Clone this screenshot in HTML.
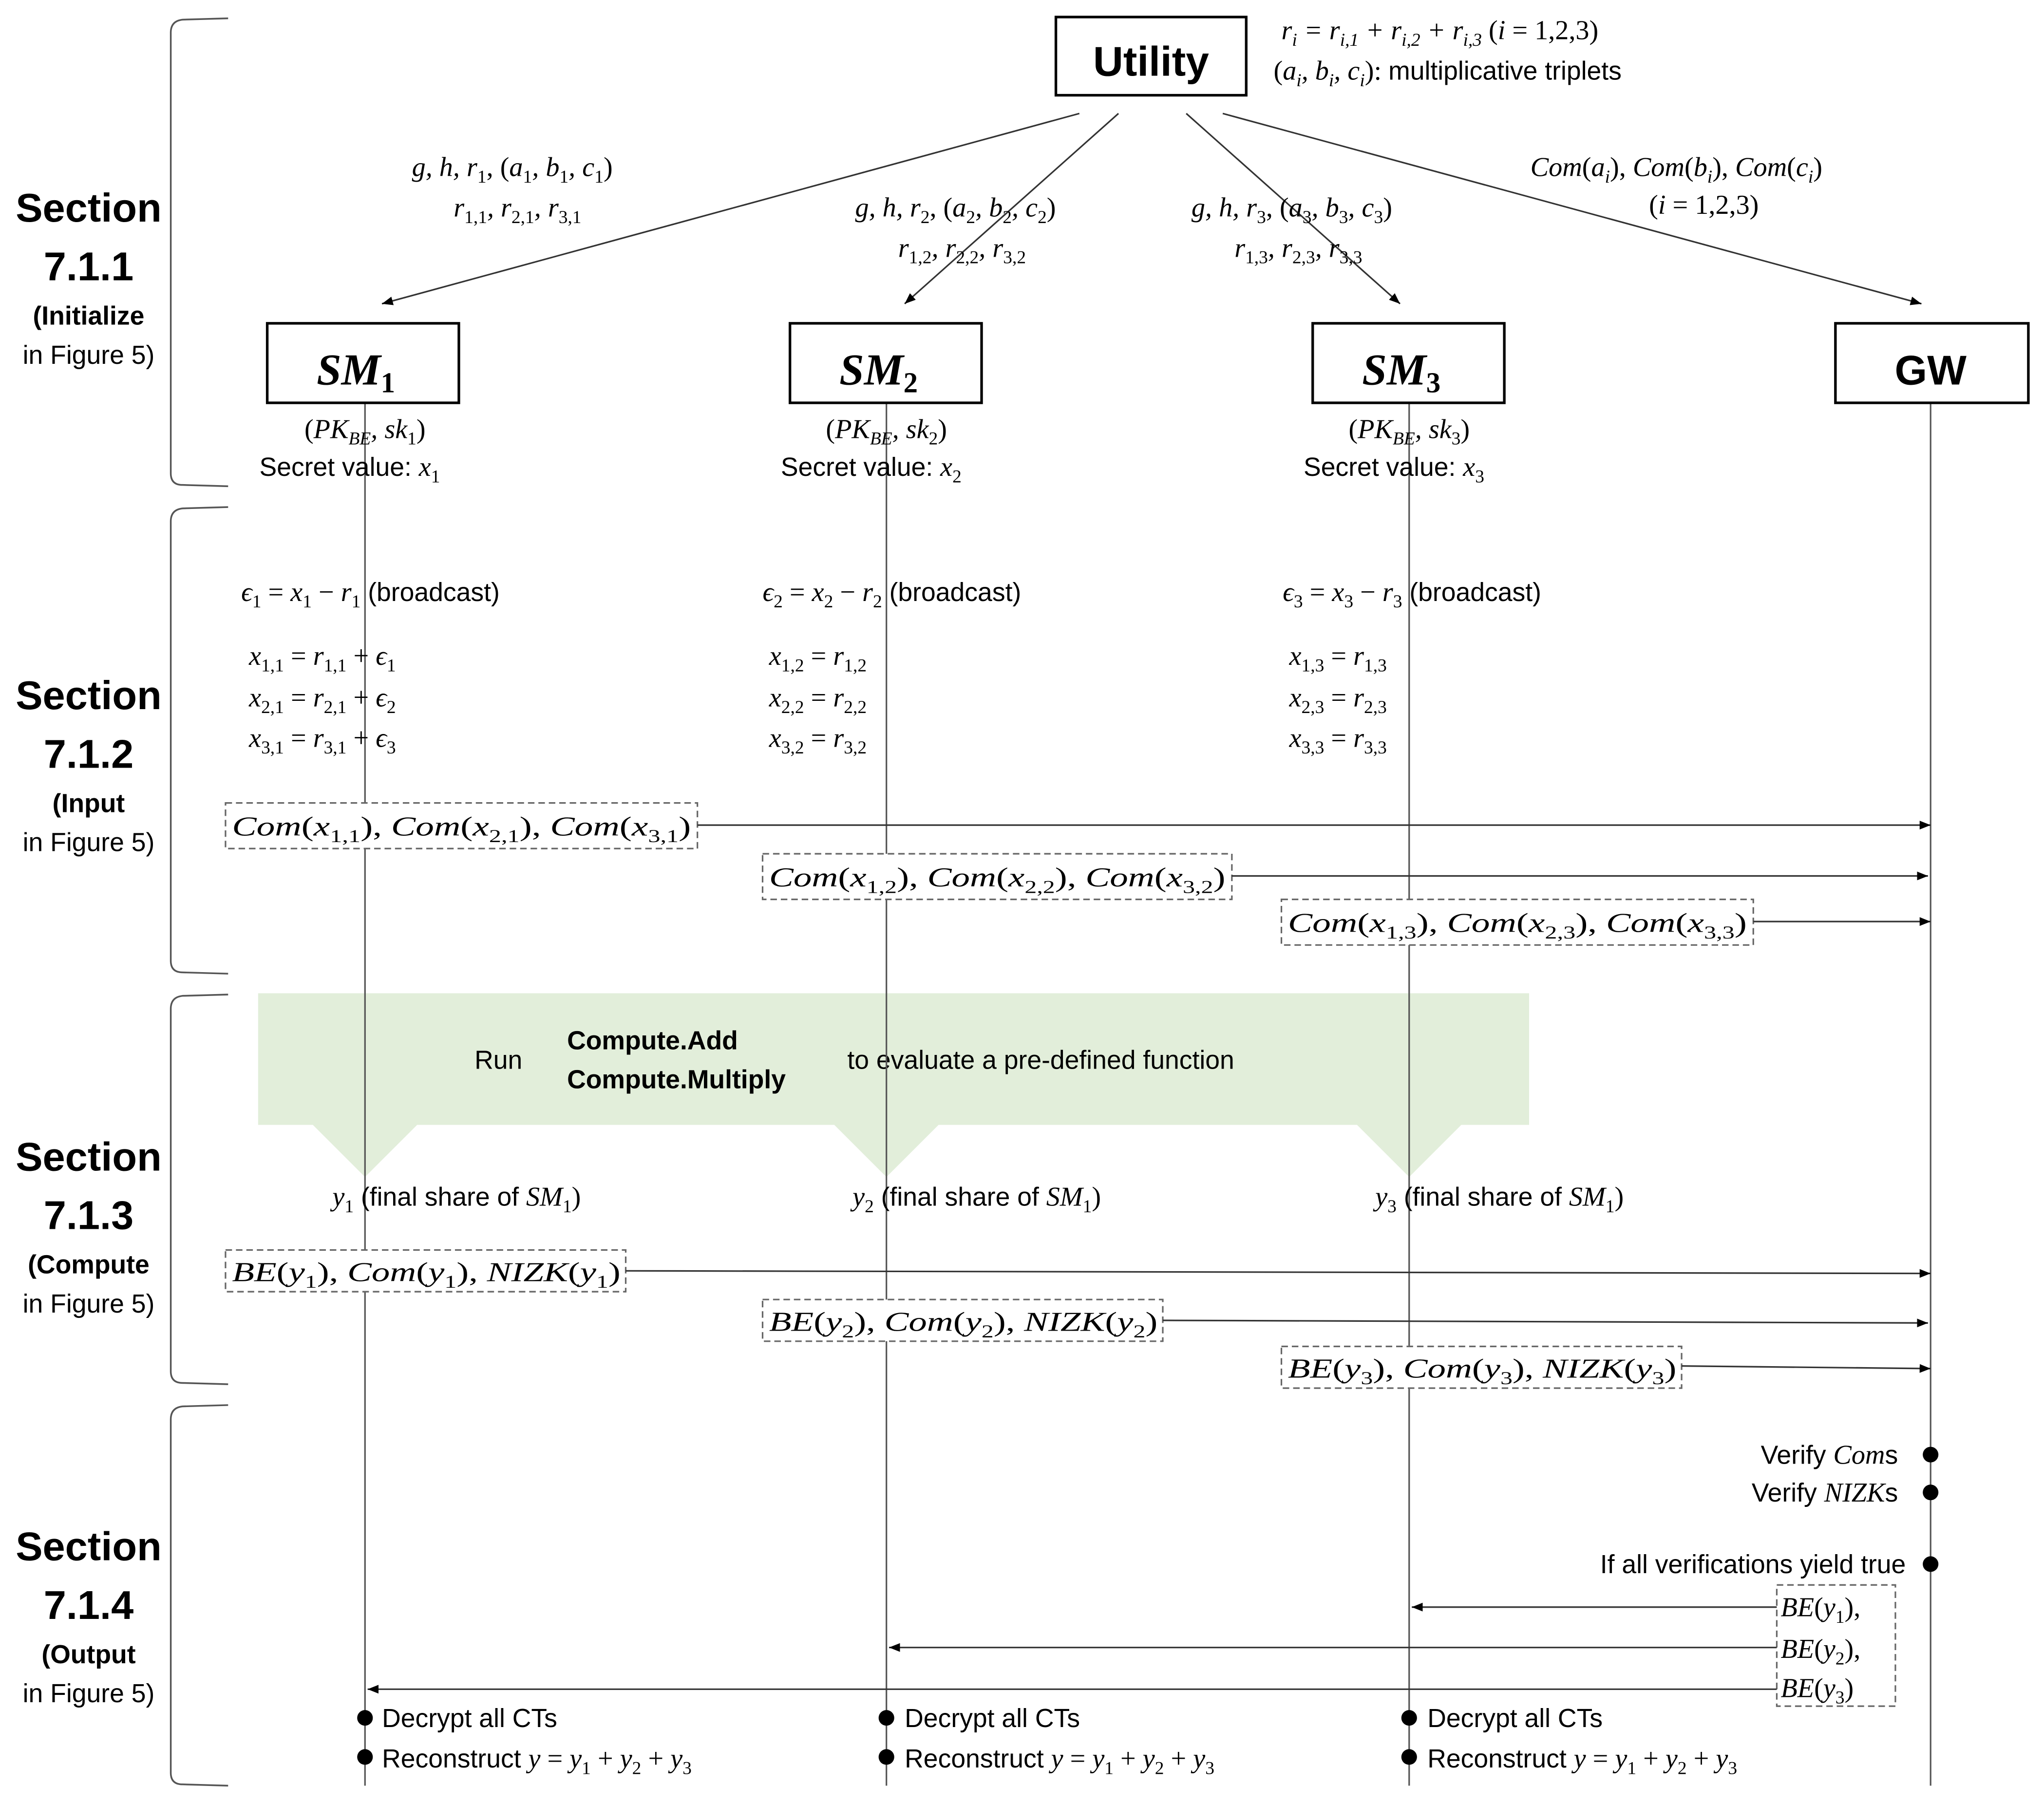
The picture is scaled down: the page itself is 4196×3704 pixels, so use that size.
<!DOCTYPE html>
<html><head><meta charset="utf-8"><style>
html,body{margin:0;padding:0;background:#fff;}
svg{display:block;}
.s{font-family:"Liberation Sans",sans-serif;}
.m{font-family:"Liberation Serif",serif;font-style:italic;}
.n{font-style:normal;}
</style></head><body>
<svg width="4196" height="3704" viewBox="0 0 1568 1384" xmlns="http://www.w3.org/2000/svg">
<defs>
<marker id="a" viewBox="0 0 10 10" refX="10" refY="5" markerWidth="7" markerHeight="7" orient="auto-start-reverse"><path d="M0,1 L10,5 L0,9 z" fill="#000"/></marker>
</defs>
<rect width="1568" height="1384" fill="#fff"/>
<!-- braces -->
<g fill="none" stroke="#555" stroke-width="1.3">
<path d="M175,14 L140,15 Q131,16 131,25 L131,363 Q131,372 140,372 L175,373"/>
<path d="M175,389 L140,390 Q131,391 131,400 L131,737 Q131,746 140,746 L175,747"/>
<path d="M175,763 L140,764 Q131,765 131,774 L131,1052 Q131,1061 140,1061 L175,1062"/>
<path d="M175,1078 L140,1079 Q131,1080 131,1089 L131,1360 Q131,1369 140,1369 L175,1370"/>
</g>
<!-- section labels -->
<g class="s" text-anchor="middle" fill="#000">
<text x="68" y="170" font-size="31" font-weight="bold">Section</text>
<text x="68" y="215" font-size="31" font-weight="bold">7.1.1</text>
<text x="68" y="249" font-size="20"><tspan font-weight="bold">(Initialize</tspan></text>
<text x="68" y="279" font-size="20">in Figure 5)</text>
<text x="68" y="544" font-size="31" font-weight="bold">Section</text>
<text x="68" y="589" font-size="31" font-weight="bold">7.1.2</text>
<text x="68" y="623" font-size="20" font-weight="bold">(Input</text>
<text x="68" y="653" font-size="20">in Figure 5)</text>
<text x="68" y="898" font-size="31" font-weight="bold">Section</text>
<text x="68" y="943" font-size="31" font-weight="bold">7.1.3</text>
<text x="68" y="977" font-size="20" font-weight="bold">(Compute</text>
<text x="68" y="1007" font-size="20">in Figure 5)</text>
<text x="68" y="1197" font-size="31" font-weight="bold">Section</text>
<text x="68" y="1242" font-size="31" font-weight="bold">7.1.4</text>
<text x="68" y="1276" font-size="20" font-weight="bold">(Output</text>
<text x="68" y="1306" font-size="20">in Figure 5)</text>
</g>
<!-- green compute band -->
<path d="M198,762 L1173,762 L1173,863 L1121,863 L1081,903 L1041,863 L720,863 L680,903 L640,863 L320,863 L280,903 L240,863 L198,863 Z" fill="#e2eeda"/>
<g class="s" font-size="20" fill="#000">
<text x="364" y="820">Run</text>
<text x="435" y="805" font-weight="bold">Compute.Add</text>
<text x="435" y="835" font-weight="bold">Compute.Multiply</text>
<text x="650" y="820">to evaluate a pre-defined function</text>
</g>
<!-- lifelines -->
<g stroke="#555" stroke-width="1.2">
<line x1="280" y1="309" x2="280" y2="1370"/>
<line x1="680" y1="309" x2="680" y2="1370"/>
<line x1="1081" y1="309" x2="1081" y2="1370"/>
<line x1="1481" y1="309" x2="1481" y2="1370"/>
</g>
<!-- boxes -->
<g fill="#fff" stroke="#000" stroke-width="2">
<rect x="810" y="13" width="146" height="60"/>
<rect x="205" y="248" width="147" height="61"/>
<rect x="606" y="248" width="147" height="61"/>
<rect x="1007" y="248" width="147" height="61"/>
<rect x="1408" y="248" width="148" height="61"/>
</g>
<text x="883" y="58" class="s" font-size="32" font-weight="bold" text-anchor="middle">Utility</text>
<g class="m" font-size="34" font-weight="bold" text-anchor="middle">
<text x="273" y="295">SM<tspan font-size="22" dy="6" class="n">1</tspan></text>
<text x="674" y="295">SM<tspan font-size="22" dy="6" class="n">2</tspan></text>
<text x="1075" y="295">SM<tspan font-size="22" dy="6" class="n">3</tspan></text>
</g>
<text x="1481" y="295" class="s" font-size="32" font-weight="bold" text-anchor="middle">GW</text>
<!-- utility arrows -->
<g stroke="#333" stroke-width="1.2" marker-end="url(#a)">
<line x1="828" y1="87" x2="293" y2="233"/>
<line x1="858" y1="87" x2="694" y2="233"/>
<line x1="910" y1="87" x2="1074" y2="233"/>
<line x1="938" y1="87" x2="1474" y2="233"/>
</g>
<!-- top math -->
<g class="m" font-size="21" fill="#000">
<text x="983" y="30">r<tspan font-size="14" dy="5">i</tspan><tspan dy="-5"> = r</tspan><tspan font-size="14" dy="5">i,1</tspan><tspan dy="-5"> + r</tspan><tspan font-size="14" dy="5">i,2</tspan><tspan dy="-5"> + r</tspan><tspan font-size="14" dy="5">i,3</tspan><tspan dy="-5" class="n"> (</tspan>i<tspan class="n"> = 1,2,3)</tspan></text>
<text x="977" y="61"><tspan class="n">(</tspan>a<tspan font-size="14" dy="5">i</tspan><tspan dy="-5">, b</tspan><tspan font-size="14" dy="5">i</tspan><tspan dy="-5">, c</tspan><tspan font-size="14" dy="5">i</tspan><tspan dy="-5" class="n">): </tspan><tspan class="s n" font-size="20">multiplicative triplets</tspan></text>
<text x="316" y="135">g, h, r<tspan font-size="14" dy="5" class="n">1</tspan><tspan dy="-5" class="n">, (</tspan>a<tspan font-size="14" dy="5" class="n">1</tspan><tspan dy="-5">, b</tspan><tspan font-size="14" dy="5" class="n">1</tspan><tspan dy="-5">, c</tspan><tspan font-size="14" dy="5" class="n">1</tspan><tspan dy="-5" class="n">)</tspan></text>
<text x="348" y="166">r<tspan font-size="14" dy="5" class="n">1,1</tspan><tspan dy="-5">, r</tspan><tspan font-size="14" dy="5" class="n">2,1</tspan><tspan dy="-5">, r</tspan><tspan font-size="14" dy="5" class="n">3,1</tspan></text>
<text x="656" y="166">g, h, r<tspan font-size="14" dy="5" class="n">2</tspan><tspan dy="-5" class="n">, (</tspan>a<tspan font-size="14" dy="5" class="n">2</tspan><tspan dy="-5">, b</tspan><tspan font-size="14" dy="5" class="n">2</tspan><tspan dy="-5">, c</tspan><tspan font-size="14" dy="5" class="n">2</tspan><tspan dy="-5" class="n">)</tspan></text>
<text x="689" y="197">r<tspan font-size="14" dy="5" class="n">1,2</tspan><tspan dy="-5">, r</tspan><tspan font-size="14" dy="5" class="n">2,2</tspan><tspan dy="-5">, r</tspan><tspan font-size="14" dy="5" class="n">3,2</tspan></text>
<text x="914" y="166">g, h, r<tspan font-size="14" dy="5" class="n">3</tspan><tspan dy="-5" class="n">, (</tspan>a<tspan font-size="14" dy="5" class="n">3</tspan><tspan dy="-5">, b</tspan><tspan font-size="14" dy="5" class="n">3</tspan><tspan dy="-5">, c</tspan><tspan font-size="14" dy="5" class="n">3</tspan><tspan dy="-5" class="n">)</tspan></text>
<text x="947" y="197">r<tspan font-size="14" dy="5" class="n">1,3</tspan><tspan dy="-5">, r</tspan><tspan font-size="14" dy="5" class="n">2,3</tspan><tspan dy="-5">, r</tspan><tspan font-size="14" dy="5" class="n">3,3</tspan></text>
<text x="1174" y="135">Com<tspan class="n">(</tspan>a<tspan font-size="14" dy="5">i</tspan><tspan dy="-5" class="n">), </tspan>Com<tspan class="n">(</tspan>b<tspan font-size="14" dy="5">i</tspan><tspan dy="-5" class="n">), </tspan>Com<tspan class="n">(</tspan>c<tspan font-size="14" dy="5">i</tspan><tspan dy="-5" class="n">)</tspan></text>
<text x="1265" y="164"><tspan class="n">(</tspan>i<tspan class="n"> = 1,2,3)</tspan></text>
<!-- keys -->
<text x="280" y="336" text-anchor="middle"><tspan class="n">(</tspan>PK<tspan font-size="14" dy="5">BE</tspan><tspan dy="-5">, sk</tspan><tspan font-size="14" dy="5" class="n">1</tspan><tspan dy="-5" class="n">)</tspan></text>
<text x="680" y="336" text-anchor="middle"><tspan class="n">(</tspan>PK<tspan font-size="14" dy="5">BE</tspan><tspan dy="-5">, sk</tspan><tspan font-size="14" dy="5" class="n">2</tspan><tspan dy="-5" class="n">)</tspan></text>
<text x="1081" y="336" text-anchor="middle"><tspan class="n">(</tspan>PK<tspan font-size="14" dy="5">BE</tspan><tspan dy="-5">, sk</tspan><tspan font-size="14" dy="5" class="n">3</tspan><tspan dy="-5" class="n">)</tspan></text>
<text x="199" y="365"><tspan class="s n" font-size="20">Secret value: </tspan>x<tspan font-size="14" dy="5" class="n">1</tspan></text>
<text x="599" y="365"><tspan class="s n" font-size="20">Secret value: </tspan>x<tspan font-size="14" dy="5" class="n">2</tspan></text>
<text x="1000" y="365"><tspan class="s n" font-size="20">Secret value: </tspan>x<tspan font-size="14" dy="5" class="n">3</tspan></text>
<!-- input section -->
<text x="185" y="461">ϵ<tspan font-size="14" dy="5" class="n">1</tspan><tspan dy="-5" class="n"> = </tspan>x<tspan font-size="14" dy="5" class="n">1</tspan><tspan dy="-5" class="n"> − </tspan>r<tspan font-size="14" dy="5" class="n">1</tspan><tspan dy="-5" class="s n" font-size="20"> (broadcast)</tspan></text>
<text x="585" y="461">ϵ<tspan font-size="14" dy="5" class="n">2</tspan><tspan dy="-5" class="n"> = </tspan>x<tspan font-size="14" dy="5" class="n">2</tspan><tspan dy="-5" class="n"> − </tspan>r<tspan font-size="14" dy="5" class="n">2</tspan><tspan dy="-5" class="s n" font-size="20"> (broadcast)</tspan></text>
<text x="984" y="461">ϵ<tspan font-size="14" dy="5" class="n">3</tspan><tspan dy="-5" class="n"> = </tspan>x<tspan font-size="14" dy="5" class="n">3</tspan><tspan dy="-5" class="n"> − </tspan>r<tspan font-size="14" dy="5" class="n">3</tspan><tspan dy="-5" class="s n" font-size="20"> (broadcast)</tspan></text>
<text x="191" y="510">x<tspan font-size="14" dy="5" class="n">1,1</tspan><tspan dy="-5" class="n"> = </tspan>r<tspan font-size="14" dy="5" class="n">1,1</tspan><tspan dy="-5" class="n"> + </tspan>ϵ<tspan font-size="14" dy="5" class="n">1</tspan></text>
<text x="191" y="542">x<tspan font-size="14" dy="5" class="n">2,1</tspan><tspan dy="-5" class="n"> = </tspan>r<tspan font-size="14" dy="5" class="n">2,1</tspan><tspan dy="-5" class="n"> + </tspan>ϵ<tspan font-size="14" dy="5" class="n">2</tspan></text>
<text x="191" y="573">x<tspan font-size="14" dy="5" class="n">3,1</tspan><tspan dy="-5" class="n"> = </tspan>r<tspan font-size="14" dy="5" class="n">3,1</tspan><tspan dy="-5" class="n"> + </tspan>ϵ<tspan font-size="14" dy="5" class="n">3</tspan></text>
<text x="590" y="510">x<tspan font-size="14" dy="5" class="n">1,2</tspan><tspan dy="-5" class="n"> = </tspan>r<tspan font-size="14" dy="5" class="n">1,2</tspan></text>
<text x="590" y="542">x<tspan font-size="14" dy="5" class="n">2,2</tspan><tspan dy="-5" class="n"> = </tspan>r<tspan font-size="14" dy="5" class="n">2,2</tspan></text>
<text x="590" y="573">x<tspan font-size="14" dy="5" class="n">3,2</tspan><tspan dy="-5" class="n"> = </tspan>r<tspan font-size="14" dy="5" class="n">3,2</tspan></text>
<text x="989" y="510">x<tspan font-size="14" dy="5" class="n">1,3</tspan><tspan dy="-5" class="n"> = </tspan>r<tspan font-size="14" dy="5" class="n">1,3</tspan></text>
<text x="989" y="542">x<tspan font-size="14" dy="5" class="n">2,3</tspan><tspan dy="-5" class="n"> = </tspan>r<tspan font-size="14" dy="5" class="n">2,3</tspan></text>
<text x="989" y="573">x<tspan font-size="14" dy="5" class="n">3,3</tspan><tspan dy="-5" class="n"> = </tspan>r<tspan font-size="14" dy="5" class="n">3,3</tspan></text>
</g>
<!-- dashed boxes -->
<g fill="#fff" stroke="#666" stroke-width="1.2" stroke-dasharray="5,3">
<rect x="173" y="616" width="362" height="35"/>
<rect x="585" y="655" width="360" height="35"/>
<rect x="983" y="690" width="362" height="35"/>
<rect x="173" y="959" width="307" height="32"/>
<rect x="585" y="997" width="307" height="32"/>
<rect x="983" y="1033" width="307" height="32"/>
<rect x="1363" y="1216" width="91" height="93"/>
</g>
<g class="m" font-size="21" fill="#000">
<text x="178" y="641" textLength="352" lengthAdjust="spacingAndGlyphs">Com<tspan class="n">(</tspan>x<tspan font-size="14" dy="5" class="n">1,1</tspan><tspan dy="-5" class="n">), </tspan>Com<tspan class="n">(</tspan>x<tspan font-size="14" dy="5" class="n">2,1</tspan><tspan dy="-5" class="n">), </tspan>Com<tspan class="n">(</tspan>x<tspan font-size="14" dy="5" class="n">3,1</tspan><tspan dy="-5" class="n">)</tspan></text>
<text x="590" y="680" textLength="350" lengthAdjust="spacingAndGlyphs">Com<tspan class="n">(</tspan>x<tspan font-size="14" dy="5" class="n">1,2</tspan><tspan dy="-5" class="n">), </tspan>Com<tspan class="n">(</tspan>x<tspan font-size="14" dy="5" class="n">2,2</tspan><tspan dy="-5" class="n">), </tspan>Com<tspan class="n">(</tspan>x<tspan font-size="14" dy="5" class="n">3,2</tspan><tspan dy="-5" class="n">)</tspan></text>
<text x="988" y="715" textLength="352" lengthAdjust="spacingAndGlyphs">Com<tspan class="n">(</tspan>x<tspan font-size="14" dy="5" class="n">1,3</tspan><tspan dy="-5" class="n">), </tspan>Com<tspan class="n">(</tspan>x<tspan font-size="14" dy="5" class="n">2,3</tspan><tspan dy="-5" class="n">), </tspan>Com<tspan class="n">(</tspan>x<tspan font-size="14" dy="5" class="n">3,3</tspan><tspan dy="-5" class="n">)</tspan></text>
<text x="255" y="925">y<tspan font-size="14" dy="5" class="n">1</tspan><tspan dy="-5" class="s n" font-size="20"> (final share of </tspan>SM<tspan font-size="14" dy="5" class="n">1</tspan><tspan dy="-5" class="n">)</tspan></text>
<text x="654" y="925">y<tspan font-size="14" dy="5" class="n">2</tspan><tspan dy="-5" class="s n" font-size="20"> (final share of </tspan>SM<tspan font-size="14" dy="5" class="n">1</tspan><tspan dy="-5" class="n">)</tspan></text>
<text x="1055" y="925">y<tspan font-size="14" dy="5" class="n">3</tspan><tspan dy="-5" class="s n" font-size="20"> (final share of </tspan>SM<tspan font-size="14" dy="5" class="n">1</tspan><tspan dy="-5" class="n">)</tspan></text>
<text x="178" y="983" textLength="298" lengthAdjust="spacingAndGlyphs">BE<tspan class="n">(</tspan>y<tspan font-size="14" dy="5" class="n">1</tspan><tspan dy="-5" class="n">), </tspan>Com<tspan class="n">(</tspan>y<tspan font-size="14" dy="5" class="n">1</tspan><tspan dy="-5" class="n">), </tspan>NIZK<tspan class="n">(</tspan>y<tspan font-size="14" dy="5" class="n">1</tspan><tspan dy="-5" class="n">)</tspan></text>
<text x="590" y="1021" textLength="298" lengthAdjust="spacingAndGlyphs">BE<tspan class="n">(</tspan>y<tspan font-size="14" dy="5" class="n">2</tspan><tspan dy="-5" class="n">), </tspan>Com<tspan class="n">(</tspan>y<tspan font-size="14" dy="5" class="n">2</tspan><tspan dy="-5" class="n">), </tspan>NIZK<tspan class="n">(</tspan>y<tspan font-size="14" dy="5" class="n">2</tspan><tspan dy="-5" class="n">)</tspan></text>
<text x="988" y="1057" textLength="298" lengthAdjust="spacingAndGlyphs">BE<tspan class="n">(</tspan>y<tspan font-size="14" dy="5" class="n">3</tspan><tspan dy="-5" class="n">), </tspan>Com<tspan class="n">(</tspan>y<tspan font-size="14" dy="5" class="n">3</tspan><tspan dy="-5" class="n">), </tspan>NIZK<tspan class="n">(</tspan>y<tspan font-size="14" dy="5" class="n">3</tspan><tspan dy="-5" class="n">)</tspan></text>
<text x="1366" y="1240">BE<tspan class="n">(</tspan>y<tspan font-size="14" dy="5" class="n">1</tspan><tspan dy="-5" class="n">),</tspan></text>
<text x="1366" y="1272">BE<tspan class="n">(</tspan>y<tspan font-size="14" dy="5" class="n">2</tspan><tspan dy="-5" class="n">),</tspan></text>
<text x="1366" y="1302">BE<tspan class="n">(</tspan>y<tspan font-size="14" dy="5" class="n">3</tspan><tspan dy="-5" class="n">)</tspan></text>
<text x="1456" y="1123" text-anchor="end"><tspan class="s n" font-size="20">Verify </tspan>Com<tspan class="s n" font-size="20">s</tspan></text>
<text x="1456" y="1152" text-anchor="end"><tspan class="s n" font-size="20">Verify </tspan>NIZK<tspan class="s n" font-size="20">s</tspan></text>
<text x="1462" y="1207" text-anchor="end" class="s n" font-size="20">If all verifications yield true</text>
<text x="293" y="1325" class="s n" font-size="20">Decrypt all CTs</text>
<text x="694" y="1325" class="s n" font-size="20">Decrypt all CTs</text>
<text x="1095" y="1325" class="s n" font-size="20">Decrypt all CTs</text>
<text x="293" y="1356"><tspan class="s n" font-size="20">Reconstruct </tspan>y<tspan class="n"> = </tspan>y<tspan font-size="14" dy="5" class="n">1</tspan><tspan dy="-5" class="n"> + </tspan>y<tspan font-size="14" dy="5" class="n">2</tspan><tspan dy="-5" class="n"> + </tspan>y<tspan font-size="14" dy="5" class="n">3</tspan></text>
<text x="694" y="1356"><tspan class="s n" font-size="20">Reconstruct </tspan>y<tspan class="n"> = </tspan>y<tspan font-size="14" dy="5" class="n">1</tspan><tspan dy="-5" class="n"> + </tspan>y<tspan font-size="14" dy="5" class="n">2</tspan><tspan dy="-5" class="n"> + </tspan>y<tspan font-size="14" dy="5" class="n">3</tspan></text>
<text x="1095" y="1356"><tspan class="s n" font-size="20">Reconstruct </tspan>y<tspan class="n"> = </tspan>y<tspan font-size="14" dy="5" class="n">1</tspan><tspan dy="-5" class="n"> + </tspan>y<tspan font-size="14" dy="5" class="n">2</tspan><tspan dy="-5" class="n"> + </tspan>y<tspan font-size="14" dy="5" class="n">3</tspan></text>
</g>
<!-- message arrows -->
<g stroke="#333" stroke-width="1.2" marker-end="url(#a)">
<line x1="535" y1="633" x2="1481" y2="633"/>
<line x1="945" y1="672" x2="1479" y2="672"/>
<line x1="1345" y1="707" x2="1481" y2="707"/>
<line x1="480" y1="975" x2="1481" y2="977"/>
<line x1="892" y1="1013" x2="1479" y2="1015"/>
<line x1="1290" y1="1048" x2="1481" y2="1050"/>
<line x1="1363" y1="1233" x2="1083" y2="1233"/>
<line x1="1363" y1="1264" x2="682" y2="1264"/>
<line x1="1363" y1="1296" x2="282" y2="1296"/>
</g>
<!-- dots -->
<g fill="#000">
<circle cx="1481" cy="1116" r="6"/>
<circle cx="1481" cy="1145" r="6"/>
<circle cx="1481" cy="1200" r="6"/>
<circle cx="280" cy="1318" r="6"/><circle cx="280" cy="1348" r="6"/>
<circle cx="680" cy="1318" r="6"/><circle cx="680" cy="1348" r="6"/>
<circle cx="1081" cy="1318" r="6"/><circle cx="1081" cy="1348" r="6"/>
</g>
</svg>
</body></html>
